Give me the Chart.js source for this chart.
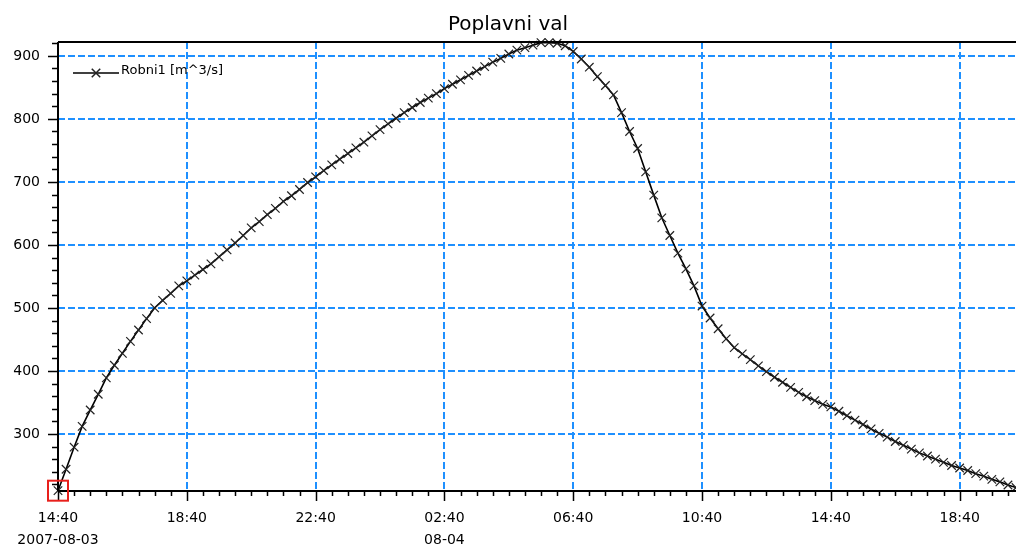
<!DOCTYPE html>
<html>
<head>
<meta charset="utf-8">
<script src="https://cdn.jsdelivr.net/npm/chart.js@4.4.1/dist/chart.umd.min.js"></script>
<style>
  html, body { margin: 0; padding: 0; background: #fff; }
  #wrap { width: 1016px; height: 549px; }
</style>
</head>
<body>
<div id="wrap"><canvas id="c" width="1016" height="549"></canvas></div>
<script>
// ---- data ----
const chartTitle = 'Poplavni val';
const seriesLabel = 'Robni1 [m^3/s]';
const times = [
  '14:40','14:55','15:10','15:25','15:40','15:55','16:10','16:25','16:40','16:55','17:10','17:25','17:40','17:55','18:10','18:25',
  '18:40','18:55','19:10','19:25','19:40','19:55','20:10','20:25','20:40','20:55','21:10','21:25','21:40','21:55','22:10','22:25',
  '22:40','22:55','23:10','23:25','23:40','23:55','00:10','00:25','00:40','00:55','01:10','01:25','01:40','01:55','02:10','02:25',
  '02:40','02:55','03:10','03:25','03:40','03:55','04:10','04:25','04:40','04:55','05:10','05:25','05:40','05:55','06:10','06:25',
  '06:40','06:55','07:10','07:25','07:40','07:55','08:10','08:25','08:40','08:55','09:10','09:25','09:40','09:55','10:10','10:25',
  '10:40','10:55','11:10','11:25','11:40','11:55','12:10','12:25','12:40','12:55','13:10','13:25','13:40','13:55','14:10','14:25',
  '14:40','14:55','15:10','15:25','15:40','15:55','16:10','16:25','16:40','16:55','17:10','17:25','17:40','17:55','18:10','18:25',
  '18:40','18:55','19:10','19:25','19:40','19:55','20:10','20:25'
];
const flow = [
  210,244,279,312,338,363,389,409,428,447,465,483,500,512,523,535,
  543,552,561,570,581,592,603,615,627,637,648,658,669,678,688,699,
  708,718,727,736,745,754,763,773,783,792,801,810,818,826,833,840,
  848,855,862,869,876,883,890,896,903,909,913,917,921,921,920,916,
  907,895,882,867,853,838,810,780,753,716,679,643,615,587,562,535,
  503,484,467,451,437,427,418,408,399,390,382,374,366,359,353,347,
  343,336,329,322,315,308,301,295,288,282,276,270,265,260,255,250,
  246,242,237,233,228,224,219,215
];
const dateTickIndex = [0, 48];
const dateTickLabels = ['2007-08-03', '08-04'];
const yTickValues = [300, 400, 500, 600, 700, 800, 900];

// ---- style ----
const GRID_BLUE = 'rgb(30,144,255)';
const MAJOR_X_EVERY = 16;   // one labelled tick every 4 h (16 samples)
const MINOR_X_EVERY = 2;    // small tick every 30 min
const Y_MINOR_STEP = 20;

Chart.defaults.font.family = '"DejaVu Sans", sans-serif';
Chart.defaults.color = '#000';

const decorPlugin = {
  id: 'decor',
  afterDatasetsDraw(chart) {
    const ctx = chart.ctx;
    const xs = chart.scales.x, ys = chart.scales.y;
    const ca = chart.chartArea;
    ctx.save();
    ctx.strokeStyle = '#000';
    ctx.lineWidth = 2;
    // frame: top line, left axis, bottom axis
    ctx.beginPath();
    ctx.moveTo(ca.left, ca.top); ctx.lineTo(ca.right, ca.top);
    ctx.moveTo(ca.left, ca.top); ctx.lineTo(ca.left, ca.bottom);
    ctx.moveTo(ca.left, ca.bottom); ctx.lineTo(ca.right, ca.bottom);
    ctx.stroke();
    // y ticks
    ctx.lineWidth = 1.5;
    ctx.beginPath();
    const yStart = Math.ceil(ys.min / Y_MINOR_STEP) * Y_MINOR_STEP;
    for (let v = yStart; v <= ys.max; v += Y_MINOR_STEP) {
      const py = Math.round(ys.getPixelForValue(v)) + 0.5;
      const len = (v % 100 === 0) ? 10 : 6;
      ctx.moveTo(ca.left - len, py); ctx.lineTo(ca.left, py);
    }
    // x ticks
    for (let i = 0; i < times.length; i += MINOR_X_EVERY) {
      const px = Math.round(xs.getPixelForValue(i)) + 0.5;
      const len = (i % MAJOR_X_EVERY === 0) ? 10 : 5;
      ctx.moveTo(px, ca.bottom); ctx.lineTo(px, ca.bottom + len);
    }
    ctx.stroke();
    // selection box around first sample
    const fx = xs.getPixelForValue(0), fy = ys.getPixelForValue(flow[0]);
    ctx.strokeStyle = '#e8201c';
    ctx.lineWidth = 2;
    ctx.strokeRect(fx - 10, fy - 10, 20, 20);
    // legend inside plot
    const lx0 = ca.left + 15, lx1 = ca.left + 61, ly = ca.top + 31;
    ctx.strokeStyle = '#000';
    ctx.lineWidth = 1.5;
    ctx.beginPath(); ctx.moveTo(lx0, ly); ctx.lineTo(lx1, ly); ctx.stroke();
    ctx.strokeStyle = '#222';
    Chart.helpers.drawPoint(ctx, {pointStyle: 'crossRot', radius: 6, borderWidth: 1.2}, (lx0 + lx1) / 2, ly);
    ctx.fillStyle = '#000';
    ctx.font = '13px "DejaVu Sans", sans-serif';
    ctx.textBaseline = 'middle';
    ctx.textAlign = 'left';
    ctx.fillText(chart.data.datasets[0].label, lx1 + 2, ly - 2);
    ctx.restore();
  }
};

new Chart(document.getElementById('c'), {
  type: 'line',
  data: {
    labels: times,
    datasets: [{
      label: seriesLabel,
      data: flow,
      borderColor: '#000',
      borderWidth: 1.6,
      tension: 0,
      pointStyle: 'crossRot',
      pointRadius: 6,
      pointBorderWidth: 1.2,
      pointBorderColor: '#222',
      pointBackgroundColor: '#222',
      clip: false
    }]
  },
  options: {
    responsive: false,
    animation: false,
    devicePixelRatio: 1,
    layout: { padding: 0, autoPadding: false },
    plugins: {
      legend: { display: false },
      tooltip: { enabled: false },
      title: {
        display: true,
        text: chartTitle,
        color: '#000',
        font: { size: 20, weight: 'normal', lineHeight: 1.2 },
        padding: { top: 13, bottom: 5 }
      }
    },
    scales: {
      x: {
        type: 'category',
        offset: false,
        afterFit(scale) { scale.height = 58; scale.paddingLeft = 0; scale.paddingRight = 0; },
        grid: {
          drawTicks: false,
          lineWidth: 2,
          color: (c) => (c.index % MAJOR_X_EVERY === 0 ? GRID_BLUE : 'rgba(0,0,0,0)')
        },
        border: { display: false, dash: [7, 3] },
        ticks: {
          autoSkip: false,
          maxRotation: 0,
          minRotation: 0,
          padding: 17,
          color: '#000',
          font: { size: 14, lineHeight: 1.55 },
          callback(value, index) {
            if (index % MAJOR_X_EVERY !== 0) return '';
            const t = times[index];
            const d = dateTickIndex.indexOf(index);
            return d >= 0 ? [t, dateTickLabels[d]] : t;
          }
        }
      },
      y: {
        type: 'linear',
        min: 209.5,
        max: 922,
        afterFit(scale) { scale.width = 58; },
        afterBuildTicks(scale) {
          scale.ticks = yTickValues.map(v => ({ value: v }));
        },
        grid: {
          drawTicks: false,
          lineWidth: 2,
          color: GRID_BLUE
        },
        border: { display: false, dash: [7, 3] },
        ticks: {
          padding: 18,
          color: '#000',
          font: { size: 14 },
          callback: (v) => String(v)
        }
      }
    }
  },
  plugins: [decorPlugin]
});
</script>
</body>
</html>
